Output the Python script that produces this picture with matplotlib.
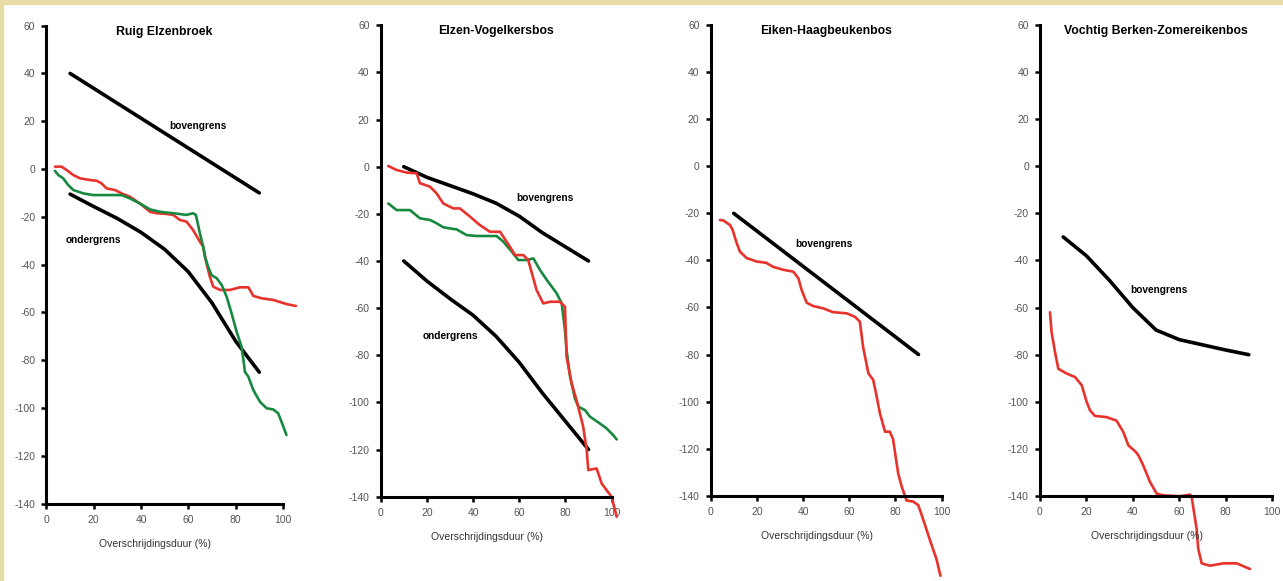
import numpy as np
import matplotlib.pyplot as plt
from matplotlib.patches import Rectangle

plt.rcParams['font.family'] = ['Liberation Sans', 'DejaVu Sans']
plt.rcParams['axes.unicode_minus'] = False

# titels van de vier bostypen
titels = ["Ruig Elzenbroek", "Elzen-Vogelkersbos", "Eiken-Haagbeukenbos",
          "Vochtig Berken-Zomereikenbos"]

grens_x = [10, 20, 30, 40, 50, 60, 70, 80, 90]

# Ruig Elzenbroek
p1_boven_x = [10, 90]
p1_boven_y = [40, -10]
p1_onder_y = [-10.5, -15.7, -20.7, -26.5, -33.6, -43, -56, -72, -85]
p1_rood_x = [3.6, 6.4, 8.5, 11.3, 14.2, 18.4, 21.2, 23.3, 25.4, 29, 31.8, 35.3, 39.5,
             43.8, 46.6, 50.8, 53.6, 56.4, 59.2, 62, 64.9, 66.3, 67.7, 69.1, 70.5,
             73.4, 77.6, 81.8, 85.4, 87.5, 91, 96, 101.5, 105.5]
p1_rood_y = [1, 1, -0.4, -2.5, -3.9, -4.6, -4.9, -6, -8.1, -8.8, -10.2, -11.6, -14.4,
             -17.9, -18.5, -18.8, -19.2, -21.3, -22, -25.5, -30.4, -32.5, -39.5, -45,
             -49.2, -50.6, -50.6, -49.5, -49.5, -53.1, -54.1, -54.8, -56.5, -57.3]
p1_groen_x = [3.6, 5, 7.1, 9.2, 11.4, 15.6, 19.8, 25.4, 31.8, 35.3, 39.5, 43.8, 48,
              53.6, 59.2, 62, 63.2, 64.9, 66.3, 67, 68.4, 69.8, 72, 74.1, 76.2, 78.3,
              80.4, 82.5, 83.5, 83.9, 85.4, 87.5, 90.3, 93.1, 95.9, 98, 99.4, 101.5]
p1_groen_y = [-0.8, -2.5, -3.9, -6.7, -8.8, -10.2, -10.9, -10.9, -10.9, -12.3, -14.4,
              -16.9, -17.9, -18.5, -19.2, -18.5, -19.2, -26.9, -32.5, -36.7, -40.9,
              -44.4, -45.7, -48.5, -53.4, -60.4, -68, -74.3, -81.3, -84.8, -86.9,
              -92.5, -97.4, -100.1, -100.6, -102.2, -105.7, -111.3]

# Elzen-Vogelkersbos
p2_boven_y = [0, -4.5, -8, -11.5, -15.5, -21, -28, -34, -40]
p2_onder_y = [-40, -48.5, -56, -63, -72, -83, -96, -108, -120]
p2_rood_x = [3.3, 6.9, 11.3, 15.6, 17, 21.4, 24.2, 27.1, 31.5, 34.3, 38.7, 43, 47.3,
             51.7, 56, 58.2, 61.8, 63.9, 67.5, 70.4, 73.3, 77.6, 79.8, 80.5, 82.7,
             84.8, 87.7, 89.2, 89.9, 93.5, 95.7, 97.8, 100, 102.2]
p2_rood_y = [0.3, -1.4, -2.5, -2.8, -7, -8.5, -11.3, -15.6, -17.7, -17.7, -21.2, -24.8,
             -27.6, -27.6, -34, -37.5, -37.5, -39.6, -52.3, -58, -57.3, -57.3, -59.4,
             -80.6, -92, -99, -110.3, -120.2, -128.7, -128, -134.4, -137.2, -140, -148.5]
p2_groen_x = [3.3, 6.9, 12.7, 17, 21.4, 24.2, 27.1, 30, 32.9, 37.2, 41.6, 50.2, 53.1,
              56.7, 59.6, 63.2, 66.1, 69, 71.9, 76.2, 78.4, 79.8, 80.5, 82, 84.1, 85.6,
              88.5, 90.6, 95, 97.8, 100.7, 102.2]
p2_groen_y = [-15.6, -18.4, -18.4, -21.9, -22.6, -24, -25.7, -26.2, -26.6, -29, -29.4,
              -29.4, -31.8, -36, -39.6, -39.6, -38.9, -43.8, -48, -53.7, -58, -69.3,
              -77.8, -89, -98.3, -101.8, -103.3, -106, -109, -111, -113.9, -115.7]

# Eiken-Haagbeukenbos
p3_boven_x = [10, 90]
p3_boven_y = [-20, -80]
p3_rood_x = [4, 5.5, 8.4, 9.5, 11.3, 12.7, 15.6, 20, 24, 27, 31.5, 35.8, 38, 39.4,
             41.6, 44.4, 48.8, 53, 59, 62.5, 64.6, 66, 68.3, 70.4, 71.9, 73.3, 75.5,
             77.6, 79, 80.5, 81.2, 82.7, 84.8, 87.7, 89.9, 92, 95, 97.8, 99.5]
p3_rood_y = [-22.8, -23, -25, -27, -32.7, -36.3, -39, -40.5, -41, -42.7, -44, -44.8,
             -47.6, -52.6, -58, -59.4, -60.4, -62, -62.5, -64, -66, -76.7, -88, -90.8,
             -97.9, -105, -112.8, -112.8, -116, -126, -130.5, -136, -142, -142.5, -144,
             -150, -159, -167, -174]

# Vochtig Berken-Zomereikenbos
p4_boven_y = [-30, -38, -48.5, -60, -69.5, -73.6, -75.8, -78, -80]
p4_rood_x = [4.3, 5, 6.5, 7.9, 11.5, 15.1, 18, 20.1, 21.6, 23.7, 28.7, 33, 35.9, 38.1,
             41, 42.4, 44.5, 47.4, 50.3, 53.1, 60.3, 64.7, 65.4, 66.1, 67.5, 68.2,
             69.7, 73.3, 79, 84.8, 90.5]
p4_rood_y = [-62, -70.5, -79, -86, -88, -89.5, -93, -100, -103.7, -106, -106.5, -108,
             -112.8, -118.5, -121, -122.7, -127, -134, -139, -139.7, -140.1, -139.4,
             -140.4, -145, -153.8, -162.3, -168.6, -169.6, -168.6, -168.6, -171]

# tekstlabels bij de grenslijnen (x, y)
p1_labels = [("bovengrens", 64, 18), ("ondergrens", 20, -29.7)]
p2_labels = [("bovengrens", 71, -13.4), ("ondergrens", 30, -71.8)]
p3_labels = [("bovengrens", 49, -33)]
p4_labels = [("bovengrens", 51.3, -52.7)]

zwart = "black"
rood = "#e8322c"
groen = "#17883f"

fig = plt.figure(figsize=(12.83, 5.81), dpi=100)
fig.patches.append(Rectangle((0, 1 - 4 / 581), 1, 4 / 581, transform=fig.transFigure,
                             color="#e6dca6", zorder=0))
fig.patches.append(Rectangle((0, 0), 2.5 / 1283, 1, transform=fig.transFigure,
                             color="#e6dca6", zorder=0))

rects = [[0.0362, 0.1332, 0.1843, 0.8227],
         [0.2967, 0.1451, 0.1800, 0.8114],
         [0.5539, 0.1468, 0.1800, 0.8100],
         [0.8106, 0.1463, 0.1808, 0.8107]]

axs = [fig.add_axes(r) for r in rects]


def opmaak(ax, titel, labels):
    ax.set_xlim(0, 100)
    ax.set_ylim(-140, 60)
    ax.set_xticks(range(0, 101, 20))
    ax.set_yticks(range(-140, 61, 20))
    for s in ["top", "right"]:
        ax.spines[s].set_visible(False)
    for s in ["left", "bottom"]:
        ax.spines[s].set_linewidth(2.2)
    ax.tick_params(direction="out", length=3.5, width=1.8, labelsize=7.5,
                   labelcolor="#555555", pad=4.5)
    ax.text(0.5, 0.987, titel, transform=ax.transAxes, ha="center", va="center",
            fontsize=8.8, fontweight="bold")
    ax.annotate("Overschrijdingsduur (%)", xy=(0.46, 0), xycoords="axes fraction",
                xytext=(0, -29), textcoords="offset points", ha="center", va="center",
                fontsize=7.5, color="#333333")
    for t, x, y in labels:
        ax.text(x, y, t, ha="center", va="center", fontsize=7.3, fontweight="bold")


def lijn(ax, x, y, kleur, lw):
    ax.plot(x, y, color=kleur, lw=lw, clip_on=False, solid_joinstyle="round",
            solid_capstyle="round")


ax = axs[0]
lijn(ax, p1_boven_x, p1_boven_y, zwart, 2.6)
lijn(ax, grens_x, p1_onder_y, zwart, 2.6)
lijn(ax, p1_rood_x, p1_rood_y, rood, 1.9)
lijn(ax, p1_groen_x, p1_groen_y, groen, 1.9)
opmaak(ax, titels[0], p1_labels)

ax = axs[1]
lijn(ax, grens_x, p2_boven_y, zwart, 2.6)
lijn(ax, grens_x, p2_onder_y, zwart, 2.6)
lijn(ax, p2_groen_x, p2_groen_y, groen, 1.9)
lijn(ax, p2_rood_x, p2_rood_y, rood, 1.9)
opmaak(ax, titels[1], p2_labels)

ax = axs[2]
lijn(ax, p3_boven_x, p3_boven_y, zwart, 2.6)
lijn(ax, p3_rood_x, p3_rood_y, rood, 1.9)
opmaak(ax, titels[2], p3_labels)

ax = axs[3]
lijn(ax, grens_x, p4_boven_y, zwart, 2.6)
lijn(ax, p4_rood_x, p4_rood_y, rood, 1.9)
opmaak(ax, titels[3], p4_labels)

fig.savefig("out.png", dpi=100, facecolor="white")
plt.close()
